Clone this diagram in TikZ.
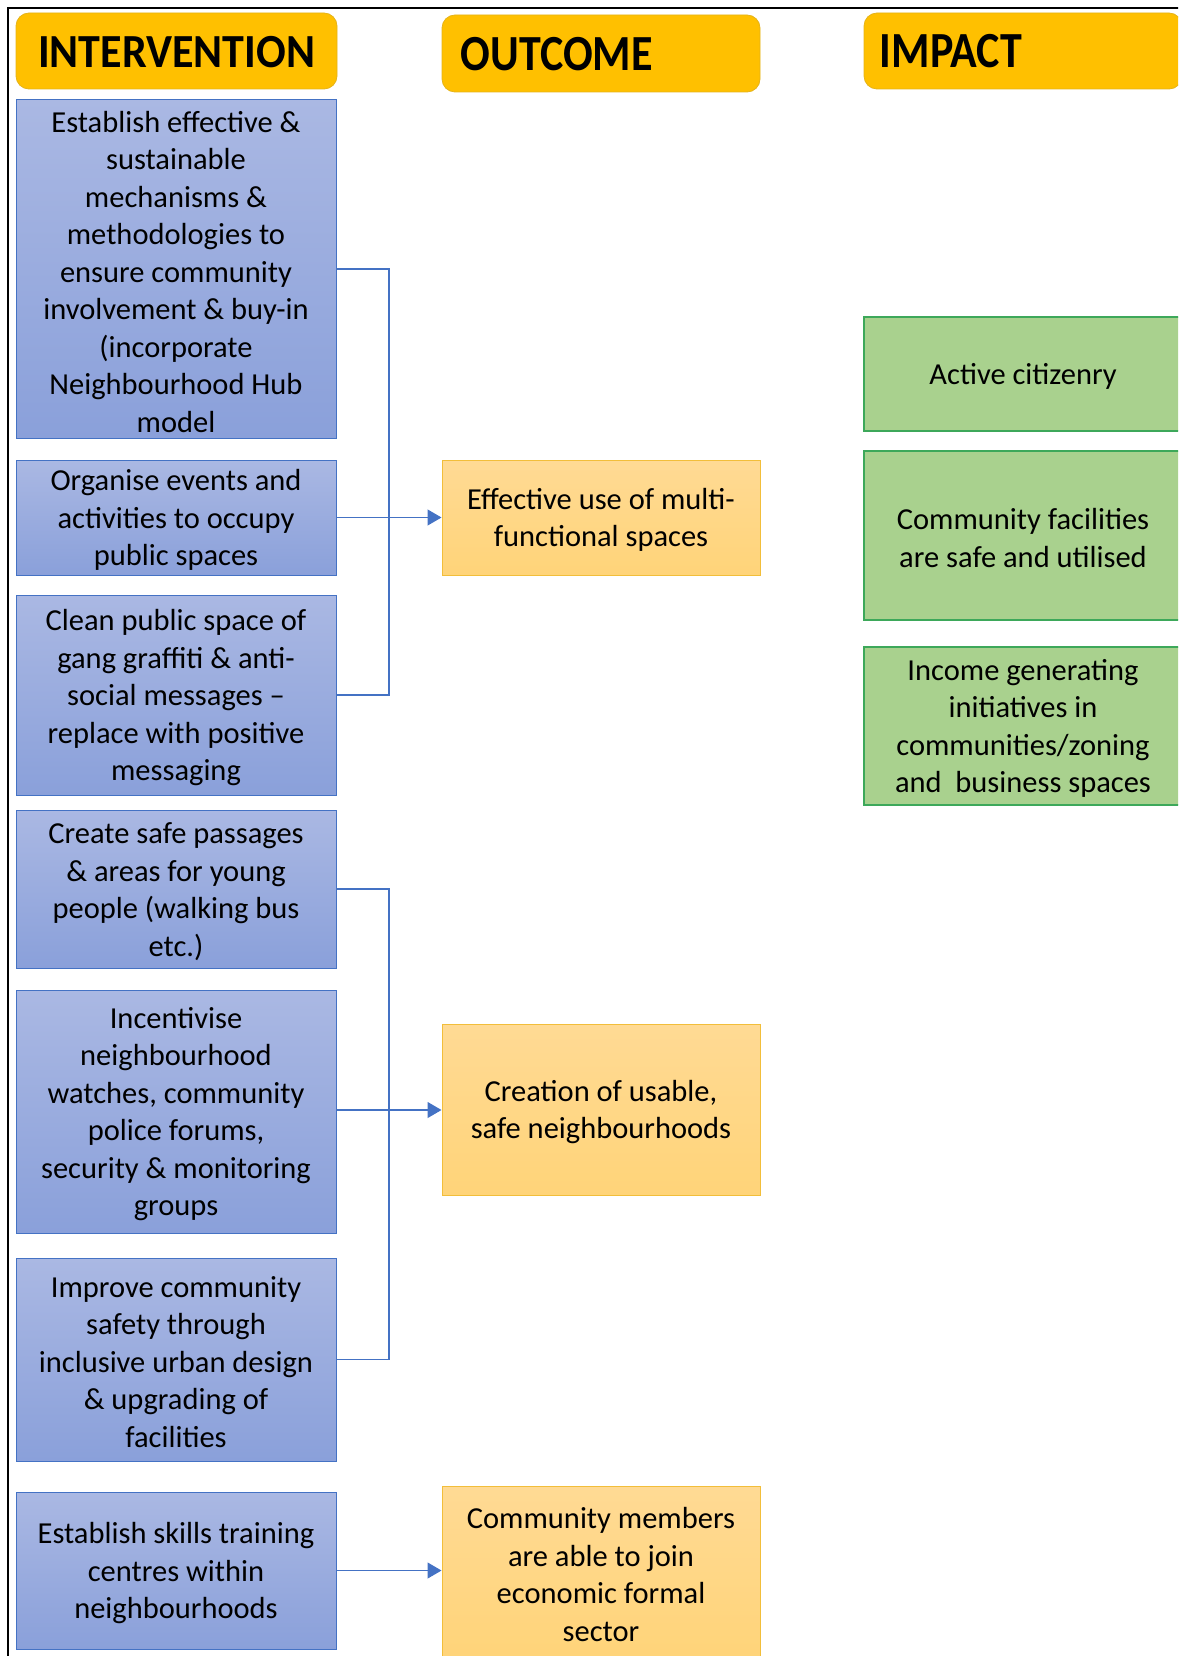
\documentclass[tikz,border=0pt]{standalone}
\usepackage{fontspec}
\setmainfont{Carlito}
\usetikzlibrary{arrows.meta}
\definecolor{hdr}{HTML}{FFC000}
\definecolor{bluetop}{HTML}{AAB8E3}
\definecolor{bluebot}{HTML}{8AA0DA}
\definecolor{blueline}{HTML}{4472C4}
\definecolor{oratop}{HTML}{FFDA94}
\definecolor{orabot}{HTML}{FFD479}
\definecolor{oraline}{HTML}{F2BE3A}
\definecolor{grn}{HTML}{A9D18E}
\definecolor{grnline}{HTML}{3DA85A}
\tikzset{
  hdrbox/.style={fill=hdr, draw=hdr!80!gray, line width=0.8pt, rounded corners=13pt, minimum height=76pt, inner sep=0pt},
  hdrtext/.style={font=\fontsize{44}{50}\selectfont\bfseries, text=black, inner sep=0pt},
  txt/.style={font=\fontsize{30.5}{37.5}\selectfont, align=center, text=black, inner sep=0pt},
  ibox/.style={top color=bluetop, bottom color=bluebot, draw=blueline, line width=1pt, minimum width=320pt, inner sep=0pt},
  obox/.style={top color=oratop, bottom color=orabot, draw=oraline, line width=1pt, minimum width=318pt, inner sep=0pt},
  mbox/.style={fill=grn, draw=grnline, line width=1.2pt, minimum width=318pt, inner sep=0pt},
  conn/.style={draw=blueline, line width=1.2pt},
  arr/.style={conn, -{Triangle[length=14pt, width=16pt]}}
}
% box with text slightly lowered
\newcommand{\txtbox}[5]{%
  \node[#2, minimum height=#4pt] (#1) at (#3) {};
  \node[txt] (#1-t) at ([yshift=-2.6pt]#1.center) {#5};}
\begin{document}
\begin{tikzpicture}[x=1pt,y=-1pt]
\useasboundingbox (0,0) rectangle (1178,1656);
\clip (0,0) rectangle (1178,1656);
% frame
\draw[black, line width=2.2pt] (8,1670) -- (8,8) -- (1190,8);
% headers
\node[hdrbox, minimum width=321pt] (hint) at (176.5,51) {};
\node[hdrtext] (tint) at ([yshift=-1pt]hint.center) {\scalebox{1}[1.08]{INTERVENTION}};
\node[hdrbox, minimum width=318pt, minimum height=77pt] (hout) at (601,53.5) {};
\node[hdrtext, anchor=west] (tout) at ([xshift=19pt,yshift=-1pt]hout.west) {\scalebox{1}[1.15]{OUTCOME}};
\node[hdrbox, minimum width=318pt] (himp) at (1023,51) {};
\node[hdrtext, anchor=west] (timp) at ([xshift=16pt]himp.west) {\scalebox{1}[1.15]{IMPACT}};
% intervention boxes
\txtbox{i1}{ibox}{176,269}{338}{Establish effective \&\\sustainable\\mechanisms \&\\methodologies to\\ensure community\\involvement \& buy-in\\(incorporate\\Neighbourhood Hub\\model}
\txtbox{i2}{ibox}{176,517.5}{115}{Organise events and\\activities to occupy\\public spaces}
\txtbox{i3}{ibox}{176,695}{200}{Clean public space of\\gang graffiti \& anti-\\social messages –\\replace with positive\\messaging}
\txtbox{i4}{ibox}{176,889}{158}{Create safe passages\\\& areas for young\\people (walking bus\\etc.)}
\txtbox{i5}{ibox}{176,1111.5}{243}{Incentivise\\neighbourhood\\watches, community\\police forums,\\security \& monitoring\\groups}
\txtbox{i6}{ibox}{176,1359.5}{203}{Improve community\\safety through\\inclusive urban design\\\& upgrading of\\facilities}
\txtbox{i7}{ibox}{176,1570.5}{157}{Establish skills training\\centres within\\neighbourhoods}
% outcome boxes
\txtbox{o1}{obox}{601,517.5}{115}{Effective use of multi-\\functional spaces}
\txtbox{o2}{obox}{601,1109.5}{171}{Creation of usable,\\safe neighbourhoods}
\txtbox{o3}{obox}{601,1572}{172}{Community members\\are able to join\\economic formal\\sector}
% impact boxes
\txtbox{m1}{mbox}{1023,374}{114}{Active citizenry}
\txtbox{m2}{mbox}{1023,535.5}{169}{Community facilities\\are safe and utilised}
\txtbox{m3}{mbox}{1023,726}{158}{Income generating\\initiatives in\\communities/zoning\\and\ \ business spaces}
% connectors
\coordinate (j1) at (389,517.5);
\coordinate (j2) at (389,1110);
\draw[conn] (i1.east) -| (j1);
\draw[conn] (i3.east) -| (j1);
\draw[arr] (i2.east) -- (o1.west);
\draw[conn] (i4.east) -| (j2);
\draw[conn] (i6.east) -| (j2);
\draw[conn] (i5.east |- j2) -- (j2);
\draw[arr] (j2) -- (o2.west |- j2);
\draw[arr] (i7.east) -- (o3.west |- i7.east);
\end{tikzpicture}
\end{document}
